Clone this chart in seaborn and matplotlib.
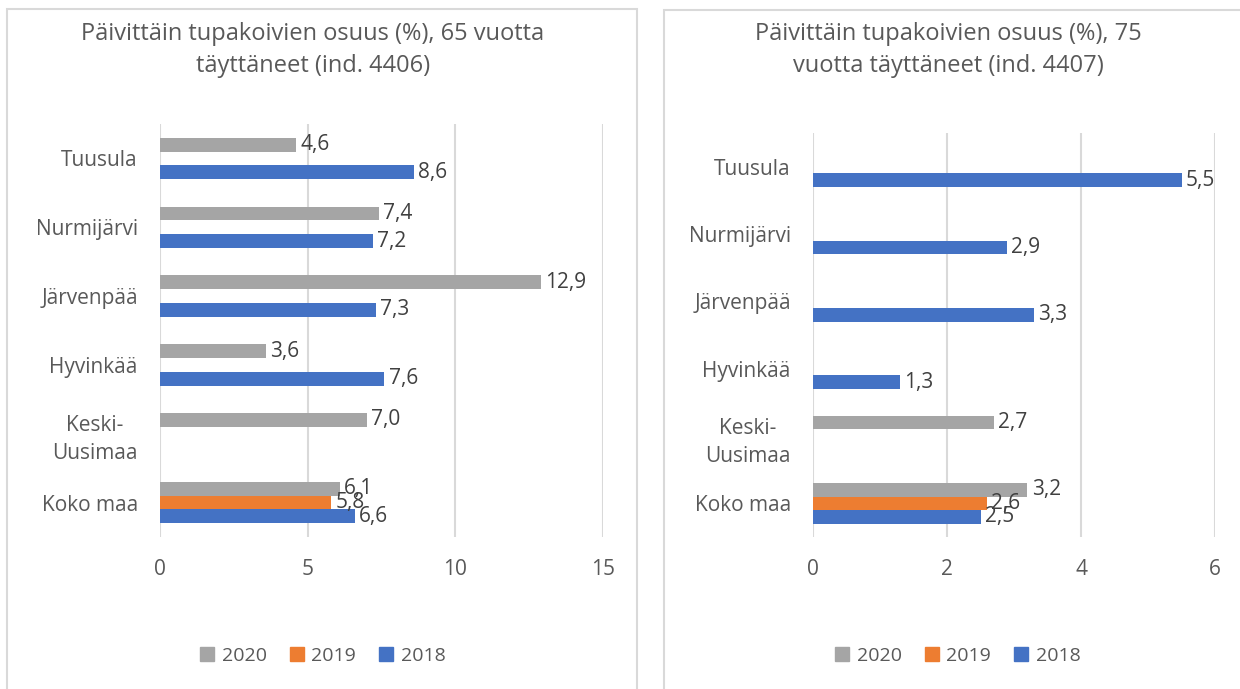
import matplotlib.pyplot as plt
import seaborn as sns
import numpy as np
import pandas as pd
from matplotlib.patches import Rectangle, Patch

categories = ["Tuusula", "Nurmijärvi", "Järvenpää", "Hyvinkää", "Keski-\nUusimaa", "Koko maa"]
years = ["2020", "2019", "2018"]
colors = {"2020": "#A5A5A5", "2019": "#ED7D31", "2018": "#4472C4"}

# 65 vuotta täyttäneet (ind. 4406)
left_2020 = [4.6, 7.4, 12.9, 3.6, 7.0, 6.1]
left_2019 = [np.nan, np.nan, np.nan, np.nan, np.nan, 5.8]
left_2018 = [8.6, 7.2, 7.3, 7.6, np.nan, 6.6]

# 75 vuotta täyttäneet (ind. 4407)
right_2020 = [np.nan, np.nan, np.nan, np.nan, 2.7, 3.2]
right_2019 = [np.nan, np.nan, np.nan, np.nan, np.nan, 2.6]
right_2018 = [5.5, 2.9, 3.3, 1.3, np.nan, 2.5]

titles = ["Päivittäin tupakoivien osuus (%), 65 vuotta\ntäyttäneet (ind. 4406)",
          "Päivittäin tupakoivien osuus (%), 75\nvuotta täyttäneet (ind. 4407)"]


def long_df(v2020, v2019, v2018):
    rows = []
    for year, vals in zip(years, [v2020, v2019, v2018]):
        for cat, v in zip(categories, vals):
            rows.append({"alue": cat, "vuosi": year, "osuus": v})
    return pd.DataFrame(rows).dropna()


sns.set_style("white")
plt.rcParams["font.family"] = ["Open Sans", "DejaVu Sans"]

fig = plt.figure(figsize=(12.4, 6.89), dpi=100)

# chart borders like in Excel
fig.add_artist(Rectangle((7 / 1240, -0.05), 630 / 1240, 1.05 - 9 / 689, transform=fig.transFigure,
                         fill=False, edgecolor="#D9D9D9", linewidth=1.5, clip_on=False))
fig.add_artist(Rectangle((664 / 1240, -0.05), 600 / 1240, 1.05 - 10 / 689, transform=fig.transFigure,
                         fill=False, edgecolor="#D9D9D9", linewidth=1.5, clip_on=False))

panels = [
    (long_df(left_2020, left_2019, left_2018), [160, 603, 124, 537], (0, 15), [0, 5, 10, 15], 313, titles[0]),
    (long_df(right_2020, right_2019, right_2018), [813, 1215, 133, 537], (0, 6), [0, 2, 4, 6], 948, titles[1]),
]

for df, (x0, x1, y0, y1), xlim, xticks, cx, title in panels:
    ax = fig.add_axes([x0 / 1240, 1 - y1 / 689, (x1 - x0) / 1240, (y1 - y0) / 689])
    sns.barplot(data=df, y="alue", x="osuus", hue="vuosi", order=categories, hue_order=years,
                palette=colors, width=0.6, orient="h", ax=ax, saturation=1, linewidth=0)
    ax.get_legend().remove()
    for cont in ax.containers:
        labels = [f"{b.get_width():.1f}".replace(".", ",") for b in cont]
        ax.bar_label(cont, labels=labels, padding=3, fontsize=15, color="#404040")
    ax.set_xlim(*xlim)
    ax.set_ylim(5.5, -0.5)
    ax.set_xticks(xticks)
    ax.set_xlabel("")
    ax.set_ylabel("")
    ax.grid(axis="x", color="#D9D9D9", linewidth=1.5)
    ax.set_axisbelow(True)
    sns.despine(ax=ax, left=True, bottom=True)
    ax.tick_params(axis="x", length=0, pad=16, labelsize=15, labelcolor="#595959")
    ax.tick_params(axis="y", length=0, pad=16, labelsize=15, labelcolor="#595959")
    for t in ax.get_yticklabels():
        t.set_multialignment("center")
        t.set_linespacing(1.45)
    fig.text(cx / 1240, 1 - 50 / 689, title, ha="center", va="center", fontsize=17,
             color="#595959", linespacing=1.5)
    handles = [Patch(color=colors[y]) for y in years]
    fig.legend(handles, years, loc="center", bbox_to_anchor=(cx / 1240 + 0.008, 1 - 656 / 689), ncol=3,
               frameon=False, fontsize=14, labelcolor="#595959", handlelength=0.7,
               handleheight=0.7, handletextpad=0.4, columnspacing=1.2)

fig.savefig("out.png", dpi=100)
